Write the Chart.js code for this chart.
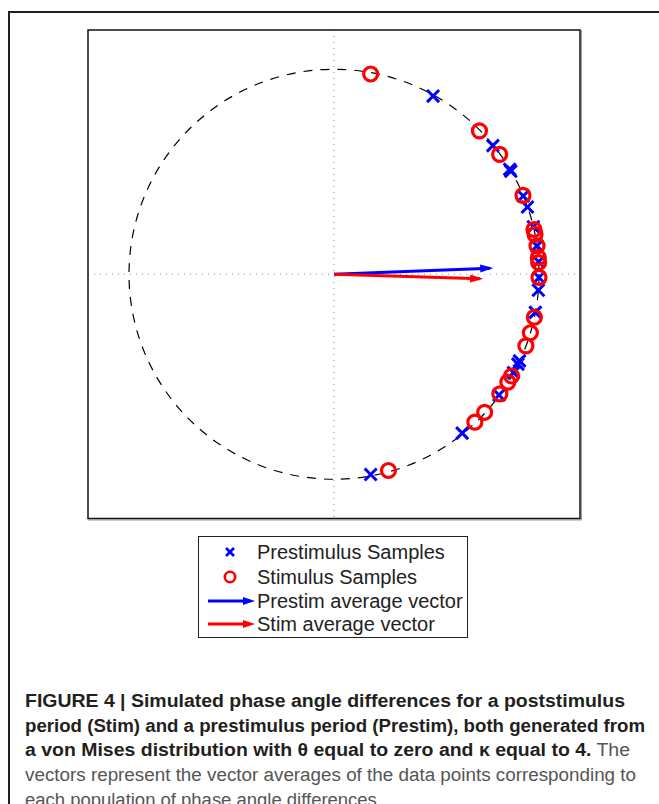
<!DOCTYPE html>
<html>
<head>
<meta charset="utf-8">
<script src="https://cdn.jsdelivr.net/npm/chart.js@4.4.0/dist/chart.umd.min.js"></script>
<style>
  html, body { margin: 0; padding: 0; background: #fff; width: 659px; height: 804px; overflow: hidden; }
  #frame { position: absolute; left: 8px; top: 11px; width: 700px; height: 850px;
           border-left: 2px solid #231f20; border-top: 2px solid #231f20; }
  #plot { position: absolute; left: 0; top: 0; }
  #legend { position: absolute; left: 198px; top: 536px; width: 268px; height: 100px;
            border: 1.5px solid #222; font-family: "Liberation Sans", Arial, sans-serif;
            font-size: 20px; color: #222; }
  #legend .row { position: absolute; left: 0; width: 268px; height: 24px; line-height: 24px; }
  #legend svg { position: absolute; left: 0; top: 0; }
  #legend span { position: absolute; left: 58px; top: 0; white-space: nowrap; }
  #caption { position: absolute; left: 25px; top: 689px;
             font-family: "Liberation Sans", Arial, sans-serif;
             font-size: 18px; line-height: 24.7px; color: #555; }
  #caption .ln { display: block; white-space: nowrap; transform-origin: 0 50%; width: max-content; }
  #caption b { color: #231f20; }
</style>
</head>
<body>
<div id="frame"></div>
<canvas id="plot" width="659" height="530"></canvas>
<div id="legend"></div>
<div id="caption">
  <span class="ln" data-w="600"><b>FIGURE 4 | Simulated phase angle differences for a poststimulus</b></span>
  <span class="ln" data-w="620"><b>period (Stim) and a prestimulus period (Prestim), both generated from</b></span>
  <span class="ln" data-w="605"><b>a von Mises distribution with &theta; equal to zero and &kappa; equal to 4.</b> The</span>
  <span class="ln" data-w="611">vectors represent the vector averages of the data points corresponding to</span>
  <span class="ln" data-w="357">each population of phase angle differences.</span>
</div>
<script>
// phase angle differences (degrees)
const prestimAngles = [61.1, 39.2, 30.4, 31.0, 22.6, 19.3, 13.5, 8.0, 3.5, -0.9, -4.5, -10.8,
                       -25.2, -26.2, -28.9, -36.4, -51.3, -79.7];
const stimAngles = [79.7, 44.8, 36.1, 22.8, 12.7, 11.3, 8.0, 4.7, 3.3, -0.9, -12.2, -16.7,
                    -20.6, -30.0, -32.0, -36.0, -42.7, -46.6, -74.6];
// average vectors (x, y) in unit-circle coordinates
const prestimMean = [0.762, 0.030];
const stimMean = [0.713, -0.022];

const labels = ["Prestimulus Samples", "Stimulus Samples", "Prestim average vector", "Stim average vector"];

function toXY(deg) {
  const a = deg * Math.PI / 180;
  return { x: Math.cos(a), y: Math.sin(a) };
}

const decor = {
  id: "decor",
  beforeDatasetsDraw(chart) {
    const { ctx, chartArea: a, scales: { x, y } } = chart;
    const cx = x.getPixelForValue(0), cy = y.getPixelForValue(0);
    const r = x.getPixelForValue(1) - cx;
    ctx.save();
    // dotted zero lines
    ctx.strokeStyle = "#8c8c8c";
    ctx.lineWidth = 1;
    ctx.setLineDash([1, 5]);
    ctx.beginPath();
    ctx.moveTo(a.left, cy); ctx.lineTo(a.right, cy);
    ctx.moveTo(cx, a.top); ctx.lineTo(cx, a.bottom);
    ctx.stroke();
    // dashed unit circle
    ctx.strokeStyle = "#000";
    ctx.lineWidth = 1.2;
    ctx.setLineDash([9, 8]);
    ctx.beginPath();
    ctx.arc(cx, cy, r, 0, Math.PI * 2);
    ctx.stroke();
    ctx.restore();
  },
  afterDatasetsDraw(chart) {
    const ctx = chart.ctx;
    chart.data.datasets.forEach((ds, i) => {
      if (!ds.isVector) return;
      const pts = chart.getDatasetMeta(i).data;
      const p0 = pts[0], p1 = pts[1];
      const ang = Math.atan2(p1.y - p0.y, p1.x - p0.x);
      const len = 13, half = 4;
      const tx = p1.x + 3 * Math.cos(ang), ty = p1.y + 3 * Math.sin(ang);
      ctx.save();
      ctx.fillStyle = ds.borderColor;
      ctx.beginPath();
      ctx.moveTo(tx, ty);
      ctx.lineTo(tx - len * Math.cos(ang) - half * Math.sin(ang), ty - len * Math.sin(ang) + half * Math.cos(ang));
      ctx.lineTo(tx - len * Math.cos(ang) + half * Math.sin(ang), ty - len * Math.sin(ang) - half * Math.cos(ang));
      ctx.closePath();
      ctx.fill();
      ctx.restore();
    });
  },
  afterDraw(chart) {
    const { ctx, chartArea: a } = chart;
    ctx.save();
    ctx.strokeStyle = "#9a9a9a";
    ctx.lineWidth = 1;
    ctx.beginPath();
    ctx.moveTo(a.right + 1.5, a.top); ctx.lineTo(a.right + 1.5, a.bottom + 1.5); ctx.lineTo(a.left, a.bottom + 1.5);
    ctx.stroke();
    ctx.strokeStyle = "#111";
    ctx.lineWidth = 1.5;
    ctx.strokeRect(a.left, a.top, a.right - a.left, a.bottom - a.top);
    ctx.restore();
  }
};

const chart = new Chart(document.getElementById("plot").getContext("2d"), {
  type: "scatter",
  data: {
    datasets: [
      {
        label: labels[0],
        data: prestimAngles.map(toXY),
        pointStyle: "crossRot",
        pointRadius: 8.5,
        pointBorderWidth: 3,
        borderColor: "#0000ff",
        backgroundColor: "#0000ff",
        order: 4
      },
      {
        label: labels[1],
        data: stimAngles.map(toXY),
        pointStyle: "circle",
        pointRadius: 7,
        pointBorderWidth: 3.2,
        borderColor: "#ff0000",
        backgroundColor: "rgba(0,0,0,0)",
        order: 3
      },
      {
        label: labels[2],
        type: "line",
        isVector: true,
        data: [{ x: 0, y: 0 }, { x: prestimMean[0], y: prestimMean[1] }],
        showLine: true,
        borderColor: "#0000ff",
        borderWidth: 3,
        pointRadius: 0,
        order: 2
      },
      {
        label: labels[3],
        type: "line",
        isVector: true,
        data: [{ x: 0, y: 0 }, { x: stimMean[0], y: stimMean[1] }],
        showLine: true,
        borderColor: "#ff0000",
        borderWidth: 3,
        pointRadius: 0,
        order: 1
      }
    ]
  },
  options: {
    responsive: false,
    animation: false,
    layout: { padding: { left: 88, top: 30, right: 79, bottom: 9 } },
    plugins: { legend: { display: false }, tooltip: { enabled: false } },
    scales: {
      x: { type: "linear", min: -1.2, max: 1.2, display: false },
      y: { type: "linear", min: -1.2, max: 1.2, display: false }
    }
  },
  plugins: [decor]
});

// html legend built from the chart datasets
const legendEl = document.getElementById("legend");
const rowCenters = [15, 40, 64, 87];
chart.data.datasets.forEach((ds, i) => {
  const c = ds.borderColor;
  let mark;
  if (ds.isVector) {
    mark = `<line x1="9" y1="12" x2="48" y2="12" stroke="${c}" stroke-width="3"/>` +
           `<polygon points="56,12 44,8 44,16" fill="${c}"/>`;
  } else if (ds.pointStyle === "crossRot") {
    mark = `<line x1="27" y1="8" x2="35" y2="16" stroke="${c}" stroke-width="2.6"/>` +
           `<line x1="35" y1="8" x2="27" y2="16" stroke="${c}" stroke-width="2.6"/>`;
  } else {
    mark = `<circle cx="31" cy="12" r="5.2" fill="none" stroke="${c}" stroke-width="2.6"/>`;
  }
  const row = document.createElement("div");
  row.className = "row";
  row.style.top = (rowCenters[i] - 12) + "px";
  row.innerHTML = `<svg width="60" height="24">${mark}</svg><span>${ds.label}</span>`;
  legendEl.appendChild(row);
});

// squeeze caption lines to the condensed widths of the original
document.querySelectorAll("#caption .ln").forEach(el => {
  const w = el.getBoundingClientRect().width;
  el.style.transform = `scaleX(${(+el.dataset.w / w).toFixed(4)})`;
});
</script>
</body>
</html>
